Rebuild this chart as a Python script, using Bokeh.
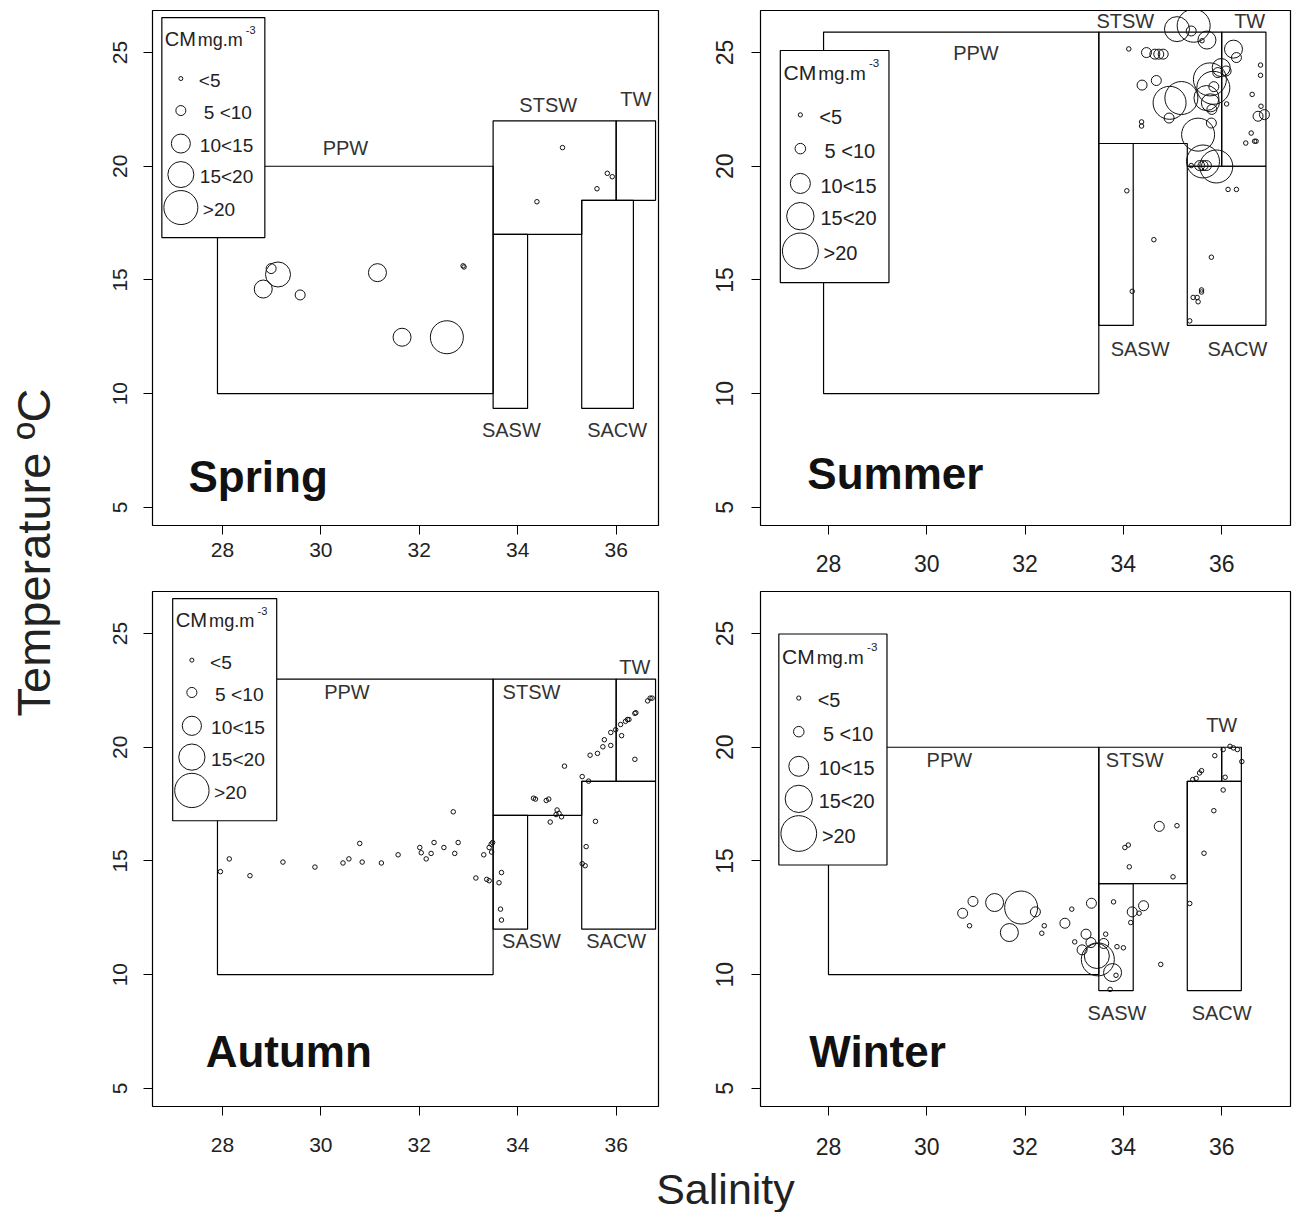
import numpy as np
from bokeh.plotting import figure
from bokeh.layouts import row, column
from bokeh.models import FixedTicker, Range1d
from bokeh.core.properties import value
from bokeh.embed import file_html
from bokeh.resources import INLINE

FONT = "Liberation Sans"

# ---------------- data ----------------
X_TICKS = [28, 30, 32, 34, 36]
Y_TICKS = [5, 10, 15, 20, 25]
CM_LABELS = ["<5", "5 <10", "10<15", "15<20", ">20"]
CM_BREAKS = [5, 10, 15, 20]
SEASONS = ["Spring", "Summer", "Autumn", "Winter"]

# Spring: salinity, temperature (ºC), CM (mg m-3, class representative)
SPRING_SAL = [34.91, 34.39, 35.82, 35.92, 35.61, 32.89, 32.91, 28.99, 29.13, 28.83, 29.58, 31.15, 31.65, 32.56]
SPRING_TEMP = [20.82, 18.44, 19.69, 19.54, 19.01, 15.62, 15.57, 15.50, 15.24, 14.60, 14.34, 15.32, 12.48, 12.48]
SPRING_CM = [3, 3, 3, 3, 3, 3, 3, 7, 17, 12, 7, 12, 12, 22]

SUMMER_SAL = [34.11, 34.47, 34.64, 34.72, 34.81, 34.38, 34.67, 34.37, 34.37, 35.09, 35.43, 35.70, 35.38, 35.60,
              36.24, 36.30, 35.99, 36.09, 35.92, 35.76, 35.83, 35.84, 34.94, 35.18, 34.93, 35.77, 35.80, 35.69,
              36.10, 35.52, 35.79, 36.79, 36.79, 36.62, 36.87, 36.74, 36.80, 36.60, 36.49, 36.67, 36.70, 35.62,
              35.89, 35.55, 35.62, 35.69, 35.38, 36.13, 36.30, 34.07, 34.62, 35.79, 34.18, 35.59, 35.59, 35.42,
              35.50, 35.52, 35.35]
SUMMER_TEMP = [25.16, 25.00, 24.93, 24.93, 24.93, 23.57, 23.77, 21.95, 21.77, 26.03, 26.18, 25.55, 25.95, 25.52,
               25.15, 24.78, 24.34, 24.19, 24.12, 23.82, 23.45, 23.50, 22.79, 23.00, 22.12, 22.79, 22.50, 23.00,
               22.74, 21.39, 21.90, 24.45, 24.00, 23.16, 22.27, 22.20, 22.64, 21.46, 21.02, 21.10, 21.10, 20.21,
               19.99, 20.03, 20.03, 20.03, 20.03, 18.98, 18.98, 18.92, 16.77, 16.00, 14.50, 14.56, 14.47, 14.23,
               14.23, 14.04, 13.20]
SUMMER_CM = [3, 7, 7, 7, 7, 7, 7, 3, 3, 17, 22, 12, 7, 3,
             12, 7, 12, 7, 7, 22, 22, 7, 22, 22, 7, 12, 7, 17,
             3, 22, 7, 3, 3, 3, 7, 7, 3, 3, 3, 3, 3, 22,
             22, 7, 7, 7, 3, 3, 3, 3, 3, 3, 3, 3, 3, 3,
             3, 3, 3]

AUTUMN_SAL = [27.96, 28.14, 28.56, 29.23, 29.88, 30.45, 30.57, 30.79, 30.84, 31.23, 31.57, 32.01, 32.04, 32.14,
              32.24, 32.30, 32.50, 32.69, 32.72, 32.79, 33.15, 33.31, 33.37, 33.42, 33.42, 33.46, 33.49, 33.47,
              33.62, 33.67, 33.65, 33.67, 34.32, 34.36, 34.58, 34.63, 34.66, 34.80, 34.84, 34.89, 34.78, 34.95,
              35.31, 35.44, 35.58, 35.39, 35.31, 35.37, 35.47, 35.62, 35.73, 35.76, 35.89, 35.89, 35.99, 36.11,
              36.09, 36.19, 36.23, 36.26, 36.38, 36.40, 36.38, 36.64, 36.69, 36.73]
AUTUMN_TEMP = [14.53, 15.09, 14.35, 14.95, 14.73, 14.91, 15.09, 15.77, 14.95, 14.91, 15.27, 15.59, 15.36, 15.09,
               15.33, 15.81, 15.59, 17.16, 15.33, 15.81, 14.25, 15.27, 14.19, 14.13, 15.59, 15.74, 15.81, 15.39,
               14.04, 14.49, 12.88, 12.40, 17.76, 17.72, 17.66, 17.72, 16.71, 17.24, 17.09, 16.94, 17.04, 19.17,
               18.71, 18.51, 16.74, 15.63, 14.88, 14.79, 19.65, 19.73, 20.02, 20.33, 20.08, 20.65, 20.77, 20.51,
               21.00, 21.14, 21.22, 21.22, 21.49, 21.52, 19.47, 22.04, 22.16, 22.16]
AUTUMN_CM = [3] * len(AUTUMN_SAL)

WINTER_SAL = [30.73, 30.94, 30.87, 31.38, 31.92, 32.21, 31.68, 32.39, 32.34, 32.95, 32.81, 33.35, 33.80, 33.01,
              33.24, 33.16, 33.34, 33.60, 33.46, 33.48, 33.78, 33.64, 33.87, 34.00, 33.85, 33.73, 34.15, 34.18,
              34.41, 34.32, 34.73, 35.09, 34.03, 34.10, 34.12, 35.01, 35.35, 35.64, 35.84, 36.03, 35.86, 35.41,
              35.48, 35.55, 35.59, 36.17, 36.24, 36.32, 36.03, 36.41, 36.07, 34.76]
WINTER_TEMP = [12.70, 13.22, 12.15, 13.17, 12.95, 12.76, 11.85, 12.15, 11.82, 12.88, 12.26, 13.14, 13.20, 11.44,
               11.78, 11.09, 11.41, 11.37, 10.82, 10.67, 10.09, 11.78, 11.23, 11.18, 9.97, 9.35, 12.29, 12.76,
               13.03, 12.70, 16.52, 16.55, 15.59, 15.70, 14.74, 14.30, 13.13, 15.34, 17.21, 18.12, 19.63, 18.58,
               18.63, 18.87, 18.97, 20.04, 19.97, 19.90, 19.90, 19.37, 18.68, 10.45]
WINTER_CM = [7, 7, 3, 12, 22, 7, 12, 3, 3, 3, 7, 7, 3, 3,
             7, 7, 7, 7, 17, 22, 12, 3, 3, 3, 3, 3, 3, 7,
             7, 3, 7, 3, 3, 3, 3, 3, 3, 3, 3, 3, 3, 3,
             3, 3, 3, 3, 3, 3, 3, 3, 3, 3]

# Water-mass boundaries (salinity, temperature corners) per season
WATER_MASSES = {
    "Spring": {
        "PPW": ([27.9, 33.5, 33.5, 27.9], [10, 10, 20, 20]),
        "STSW": ([33.5, 33.5, 36.0, 36.0, 35.3, 35.3], [17, 22, 22, 18.5, 18.5, 17]),
        "TW": ([36.0, 36.0, 36.8, 36.8], [18.5, 22, 22, 18.5]),
        "SASW": ([33.5, 33.5, 34.2, 34.2], [9.35, 17, 17, 9.35]),
        "SACW": ([35.3, 35.3, 36.35, 36.35], [9.35, 18.5, 18.5, 9.35]),
    },
    "Summer": {
        "PPW": ([27.9, 33.5, 33.5, 27.9], [10, 10, 25.9, 25.9]),
        "STSW": ([33.5, 33.5, 36.0, 36.0, 35.3, 35.3], [21, 25.9, 25.9, 20, 20, 21]),
        "TW": ([36.0, 36.0, 36.9, 36.9], [20, 25.9, 25.9, 20]),
        "SASW": ([33.5, 33.5, 34.2, 34.2], [13, 21, 21, 13]),
        "SACW": ([35.3, 35.3, 36.9, 36.9], [13, 20, 20, 13]),
    },
    "Autumn": {
        "PPW": ([27.9, 33.5, 33.5, 27.9], [10, 10, 23, 23]),
        "STSW": ([33.5, 33.5, 36.0, 36.0, 35.3, 35.3], [17, 23, 23, 18.5, 18.5, 17]),
        "TW": ([36.0, 36.0, 36.8, 36.8], [18.5, 23, 23, 18.5]),
        "SASW": ([33.5, 33.5, 34.2, 34.2], [12, 17, 17, 12]),
        "SACW": ([35.3, 35.3, 36.8, 36.8], [12, 18.5, 18.5, 12]),
    },
    "Winter": {
        "PPW": ([28.0, 33.5, 33.5, 28.0], [10, 10, 20, 20]),
        "STSW": ([33.5, 33.5, 36.0, 36.0, 35.3, 35.3], [14, 20, 20, 18.5, 18.5, 14]),
        "TW": ([36.0, 36.0, 36.4, 36.4], [18.5, 20, 20, 18.5]),
        "SASW": ([33.5, 33.5, 34.2, 34.2], [9.3, 14, 14, 9.3]),
        "SACW": ([35.3, 35.3, 36.4, 36.4], [9.3, 18.5, 18.5, 9.3]),
    },
}

# Label anchors for water-mass names (salinity, temperature)
MASS_LABELS = {
    "Spring": {"PPW": (30.5, 20.79), "STSW": (34.62, 22.68), "TW": (36.4, 22.94), "SASW": (33.87, 8.42), "SACW": (36.02, 8.42)},
    "Summer": {"PPW": (31.0, 24.96), "STSW": (34.04, 26.38), "TW": (36.57, 26.38), "SASW": (34.34, 11.95), "SACW": (36.32, 11.95)},
    "Autumn": {"PPW": (30.53, 22.45), "STSW": (34.28, 22.45), "TW": (36.38, 23.54), "SASW": (34.28, 11.47), "SACW": (36.0, 11.47)},
    "Winter": {"PPW": (30.46, 19.43), "STSW": (34.23, 19.43), "TW": (36.0, 20.97), "SASW": (33.87, 8.33), "SACW": (36.0, 8.33)},
}

SEASON_DATA = {
    "Spring": (SPRING_SAL, SPRING_TEMP, SPRING_CM),
    "Summer": (SUMMER_SAL, SUMMER_TEMP, SUMMER_CM),
    "Autumn": (AUTUMN_SAL, AUTUMN_TEMP, AUTUMN_CM),
    "Winter": (WINTER_SAL, WINTER_TEMP, WINTER_CM),
}

# ---------------- layout / style ----------------
CLASS_SIZES = [4.5, 10, 18, 25, 33]
LEG_SIZES = [4, 10, 19, 26, 34]
TITLE_POS = {"Spring": (27.31, 6.35), "Summer": (27.57, 6.5), "Autumn": (27.66, 6.6), "Winter": (27.61, 6.62)}
LEGEND_TL = {"Spring": (26.77, 26.54), "Summer": (27.02, 25.09), "Autumn": (26.99, 26.54), "Winter": (26.99, 24.98)}
LEGEND_K = {"Spring": 1.0, "Summer": 1.055, "Autumn": 1.01, "Winter": 1.05}
X_STANDOFF = {"Spring": 8, "Summer": 20, "Autumn": 22, "Winter": 22}

LEFT_XR = (26.58, 36.86)
RIGHT_XR = (26.617, 37.40)
LEFT_FW = 506
RIGHT_FW = 530
YR = (4.2, 26.85)
FH = 515


def cm_size(v):
    idx = int(np.searchsorted(CM_BREAKS, v, side="right"))
    return CLASS_SIZES[idx]


def draw_legend(p, season, xr, fw):
    x0, y0 = LEGEND_TL[season]
    k = LEGEND_K[season]
    ux = (xr[1] - xr[0]) / fw * k
    uy = (YR[1] - YR[0]) / FH * k
    p.quad(left=[x0], right=[x0 + 103 * ux], top=[y0], bottom=[y0 - 220 * uy],
           fill_color="white", line_color="black", line_width=1.2)
    p.text([x0 + 3 * ux], [y0 - 21 * uy], ["CM"], text_font=value(FONT),
           text_font_size=value(f"{20 * k:.1f}px"), text_baseline="middle", text_color="#222")
    p.text([x0 + 36 * ux], [y0 - 22 * uy], ["mg.m"], text_font=value(FONT),
           text_font_size=value(f"{18 * k:.1f}px"), text_baseline="middle", text_color="#222")
    p.text([x0 + 84 * ux], [y0 - 12 * uy], ["-3"], text_font=value(FONT),
           text_font_size=value(f"{11 * k:.1f}px"), text_baseline="middle", text_color="#222")
    rows_y = [61, 93, 126, 157, 190]
    p.scatter([x0 + 19 * ux] * 5, [y0 - r * uy for r in rows_y], size=[s * k for s in LEG_SIZES],
              marker="circle", fill_color=None, line_color="#111", line_width=1)
    offs = [37, 42, 38, 38, 41]
    p.text([x0 + o * ux for o in offs], [y0 - (r + 2) * uy for r in rows_y], CM_LABELS,
           text_font=value(FONT), text_font_size=value(f"{19 * k:.1f}px"),
           text_baseline="middle", text_color="#222")


def panel(season, left_col, top_row):
    xr = LEFT_XR if left_col else RIGHT_XR
    fw = LEFT_FW if left_col else RIGHT_FW
    p = figure(frame_width=fw, frame_height=FH, x_range=Range1d(*xr), y_range=Range1d(*YR),
               output_backend="svg", toolbar_location=None,
               min_border_left=80 if left_col else 92, min_border_right=10 if left_col else 2,
               min_border_top=10 if top_row else 8, min_border_bottom=58)
    p.xaxis.ticker = FixedTicker(ticks=X_TICKS)
    p.yaxis.ticker = FixedTicker(ticks=Y_TICKS)
    for ax in (p.xaxis[0], p.yaxis[0]):
        ax.axis_line_color = None
        ax.major_tick_out = 9
        ax.major_tick_in = 0
        ax.minor_tick_line_color = None
        ax.major_tick_line_color = "black"
        ax.major_tick_line_width = 1
        ax.major_label_text_font = FONT
        ax.major_label_text_font_size = "21px" if left_col else "23px"
        ax.major_label_text_color = "#222"
    p.yaxis.major_label_orientation = "vertical"
    p.xaxis.major_label_standoff = X_STANDOFF[season]
    p.yaxis.major_label_standoff = 16 if left_col else 18
    p.grid.visible = False
    p.outline_line_color = "black"
    p.outline_line_width = 1.2
    p.background_fill_color = "white"

    masses = WATER_MASSES[season]
    names = list(masses.keys())
    p.patches([masses[n][0] for n in names], [masses[n][1] for n in names],
              fill_color=None, line_color="black", line_width=1.2)
    labs = MASS_LABELS[season]
    p.text([labs[n][0] for n in names], [labs[n][1] for n in names], names,
           text_font=value(FONT), text_font_size=value("20px"), text_align="center",
           text_baseline="middle", text_color="#333")

    sal, temp, cm = SEASON_DATA[season]
    p.scatter(sal, temp, size=[cm_size(v) for v in cm], marker="circle",
              fill_color=None, line_color="#111", line_width=1)

    draw_legend(p, season, xr, fw)

    tx, ty = TITLE_POS[season]
    p.text([tx], [ty], [season], text_font=value(FONT), text_font_size=value("44px"),
           text_font_style="bold", text_baseline="middle", text_color="#111")
    return p


sp = panel("Spring", True, True)
su = panel("Summer", False, True)
au = panel("Autumn", True, False)
wi = panel("Winter", False, False)

ylab = figure(width=72, height=1164, x_range=Range1d(0, 72), y_range=Range1d(0, 1164),
              x_axis_type=None, y_axis_type=None, output_backend="svg", toolbar_location=None,
              min_border=0)
ylab.grid.visible = False
ylab.outline_line_color = None
ylab.text([33], [612], ["Temperature ºC"], angle=np.pi / 2, text_font=value(FONT),
          text_font_size=value("47px"), text_align="center", text_baseline="middle", text_color="#222")

sal_fig = figure(width=1290, height=48, x_range=Range1d(0, 1290), y_range=Range1d(0, 48),
                 x_axis_type=None, y_axis_type=None, output_backend="svg", toolbar_location=None,
                 min_border=0)
sal_fig.grid.visible = False
sal_fig.outline_line_color = None
sal_fig.text([725], [24], ["Salinity"], text_font=value(FONT), text_font_size=value("43px"),
             text_align="center", text_baseline="middle", text_color="#222")

layout = column(row(ylab, column(row(sp, su), row(au, wi))), sal_fig)

with open("out.html", "w") as f:
    f.write(file_html(layout, INLINE))
